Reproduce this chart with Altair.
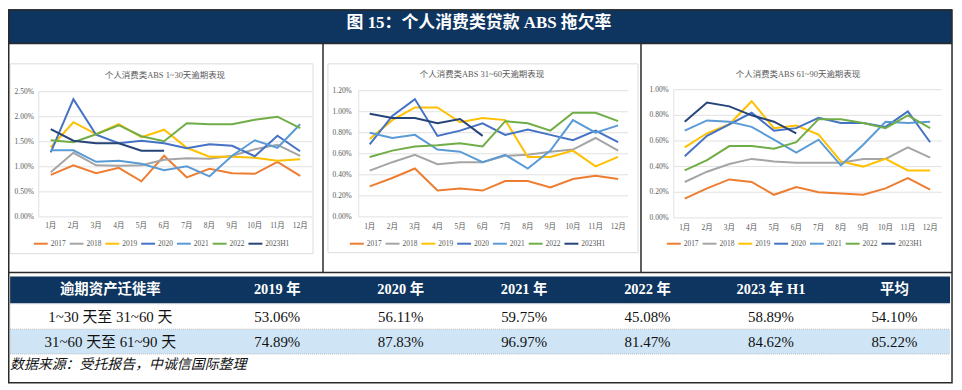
import altair as alt
import pandas as pd

# ---------------- data ----------------
months = ["1月", "2月", "3月", "4月", "5月", "6月", "7月", "8月", "9月", "10月", "11月", "12月"]
years = ["2017", "2018", "2019", "2020", "2021", "2022", "2023H1"]
year_colors = ["#ED7D31", "#A5A5A5", "#FFC000", "#4472C4", "#5B9BD5", "#70AD47", "#264478"]

# 1~30 days overdue rate (%)
d30 = {
    "2017": [0.84, 1.03, 0.87, 0.98, 0.71, 1.22, 0.79, 0.96, 0.87, 0.86, 1.10, 0.82],
    "2018": [0.89, 1.28, 1.03, 1.02, 1.03, 1.14, 1.17, 1.16, 1.22, 1.35, 1.44, 1.22],
    "2019": [1.39, 1.89, 1.65, 1.85, 1.59, 1.74, 1.38, 1.20, 1.20, 1.18, 1.12, 1.15],
    "2020": [1.29, 2.35, 1.64, 1.47, 1.52, 1.47, 1.37, 1.45, 1.42, 1.21, 1.62, 1.31],
    "2021": [1.33, 1.33, 1.10, 1.12, 1.06, 0.93, 1.01, 0.81, 1.22, 1.53, 1.38, 1.85],
    "2022": [1.53, 1.49, 1.65, 1.83, 1.61, 1.51, 1.87, 1.85, 1.85, 1.94, 2.00, 1.77],
    "2023H1": [1.75, 1.52, 1.47, 1.47, 1.32, 1.32],
}
# 31~60 days overdue rate (%)
d60 = {
    "2017": [0.29, 0.37, 0.46, 0.25, 0.27, 0.25, 0.34, 0.34, 0.28, 0.36, 0.39, 0.36],
    "2018": [0.44, 0.52, 0.59, 0.50, 0.52, 0.52, 0.58, 0.59, 0.62, 0.64, 0.75, 0.63],
    "2019": [0.74, 0.92, 1.04, 1.04, 0.90, 0.94, 0.92, 0.57, 0.57, 0.63, 0.48, 0.57],
    "2020": [0.69, 0.96, 1.12, 0.77, 0.82, 0.89, 0.78, 0.83, 0.78, 0.73, 0.82, 0.71],
    "2021": [0.80, 0.75, 0.78, 0.64, 0.62, 0.52, 0.59, 0.46, 0.63, 0.92, 0.80, 0.87],
    "2022": [0.57, 0.63, 0.67, 0.68, 0.70, 0.67, 0.91, 0.89, 0.82, 0.99, 0.99, 0.91],
    "2023H1": [0.98, 0.94, 0.94, 0.89, 0.93, 0.77],
}
# 61~90 days overdue rate (%)
d90 = {
    "2017": [0.15, 0.23, 0.30, 0.28, 0.18, 0.24, 0.20, 0.19, 0.18, 0.23, 0.31, 0.22],
    "2018": [0.28, 0.36, 0.42, 0.46, 0.44, 0.43, 0.43, 0.43, 0.46, 0.46, 0.55, 0.47],
    "2019": [0.55, 0.66, 0.73, 0.91, 0.70, 0.72, 0.65, 0.44, 0.40, 0.46, 0.37, 0.37],
    "2020": [0.48, 0.64, 0.73, 0.82, 0.68, 0.70, 0.78, 0.74, 0.74, 0.71, 0.83, 0.59],
    "2021": [0.68, 0.76, 0.75, 0.71, 0.61, 0.51, 0.61, 0.41, 0.57, 0.75, 0.74, 0.75],
    "2022": [0.37, 0.45, 0.56, 0.56, 0.54, 0.59, 0.77, 0.77, 0.74, 0.70, 0.80, 0.70],
    "2023H1": [0.75, 0.90, 0.87, 0.80, 0.75, 0.66],
}
ticks30 = [0.0, 0.5, 1.0, 1.5, 2.0, 2.5]
ticks60 = [0.0, 0.2, 0.4, 0.6, 0.8, 1.0, 1.2]
ticks90 = [0.0, 0.2, 0.4, 0.6, 0.8, 1.0]

fig_title = "图 15：个人消费类贷款 ABS 拖欠率"
panel_titles = ["个人消费类ABS 1~30天逾期表现", "个人消费类ABS 31~60天逾期表现", "个人消费类ABS 61~90天逾期表现"]

table_head = "逾期资产迁徙率"
table_cols = ["2019 年", "2020 年", "2021 年", "2022 年", "2023 年 H1", "平均"]
row_labels = ["1~30 天至 31~60 天", "31~60 天至 61~90 天"]
rate_30_60 = ["53.06%", "56.11%", "59.75%", "45.08%", "58.89%", "54.10%"]
rate_60_90 = ["74.89%", "87.83%", "96.97%", "81.47%", "84.62%", "85.22%"]
source_note = "数据来源：受托报告，中诚信国际整理"

# ---------------- styling ----------------
NAVY = "#0e355f"
FONT = "Liberation Serif, Noto Sans CJK SC"
CJK = "Noto Sans CJK SC"
GREY_TXT = "#595959"
ONE = alt.Data(values=[{}])


def box(x, x2, y, y2, **kw):
    return alt.Chart(ONE).mark_rect(**kw).encode(
        x=alt.value(x), x2=alt.value(x2), y=alt.value(y), y2=alt.value(y2))


def line(x, x2, y, y2, **kw):
    return alt.Chart(ONE).mark_rule(**kw).encode(
        x=alt.value(x), x2=alt.value(x2), y=alt.value(y), y2=alt.value(y2))


def panel(series, ticks, title, L):
    rows = []
    for y in years:
        for i, v in enumerate(series[y]):
            rows.append({"month": months[i], "i": i, "year": y, "v": v})
    df = pd.DataFrame(rows)
    xs = alt.Scale(type="point", domain=months, range=list(L["xr"]), padding=0)
    ys = alt.Scale(domain=[ticks[0], ticks[-1]], range=list(L["yr"]), nice=False, zero=True)
    tdf = pd.DataFrame({"t": ticks})
    grid = alt.Chart(tdf).mark_rule(color="#d9d9d9", strokeWidth=0.8).encode(
        y=alt.Y("t:Q", scale=ys, axis=None),
        x=alt.value(L["px"][0]), x2=alt.value(L["px"][1]))
    yline = line(L["px"][0], L["px"][0], L["yr"][1], L["yr"][0], color="#d9d9d9", strokeWidth=0.8)
    tlab = alt.Chart(tdf).transform_calculate(
        lbl="format(datum.t, '.2f') + '%'"
    ).mark_text(align="right", baseline="middle", font=FONT, fontSize=7.5, color=GREY_TXT).encode(
        y=alt.Y("t:Q", scale=ys, axis=None), x=alt.value(L["lx"]), text="lbl:N")
    mlab = alt.Chart(pd.DataFrame({"month": months})).mark_text(
        align="center", baseline="middle", font=FONT, fontSize=7.5, color=GREY_TXT).encode(
        x=alt.X("month:N", scale=xs, axis=None), y=alt.value(L["my"]), text="month:N")
    ttl = alt.Chart(pd.DataFrame({"t": [title]})).mark_text(
        align="center", baseline="middle", font=FONT, fontSize=8.5, color=GREY_TXT).encode(
        x=alt.value(L["tt"][0]), y=alt.value(L["tt"][1]), text="t:N")
    lines = alt.Chart(df).mark_line(strokeWidth=2).encode(
        x=alt.X("month:N", scale=xs, axis=None),
        y=alt.Y("v:Q", scale=ys, axis=None),
        order=alt.Order("i:Q"),
        color=alt.Color("year:N", scale=alt.Scale(domain=years, range=year_colors),
                        legend=alt.Legend(orient="none", legendX=L["lg"][0], legendY=L["lg"][1],
                                          direction="horizontal", title=None, symbolType="stroke",
                                          symbolStrokeWidth=2, symbolSize=196, labelFont=FONT,
                                          labelFontSize=7.5, labelColor=GREY_TXT, labelOffset=2,
                                          columnPadding=0, padding=0)),
    )
    return [grid, yline, tlab, mlab, ttl, lines]


P1 = dict(xr=(43, 294), yr=(209, 83), px=(31, 306), lx=26, my=218, tt=(158, 66), lg=(25, 228))
P2 = dict(xr=(364, 614), yr=(209, 82), px=(353, 624), lx=346, my=219, tt=(477, 65), lg=(343, 228))
P3 = dict(xr=(681, 928), yr=(210, 81), px=(670, 940), lx=665, my=220, tt=(795, 65), lg=(662, 228))

layers = []
# backgrounds
layers.append(box(0, 950, 0, 34, color=NAVY))
layers.append(box(2, 948, 269, 296, color=NAVY))
layers.append(box(2, 948, 322, 347, color="#cfe5f6"))
# inner chart frames
layers.append(box(2, 307, 55, 246, fillOpacity=0, stroke="#dcdcdc", strokeWidth=1))
layers.append(box(322, 634, 55, 245, fillOpacity=0, stroke="#dcdcdc", strokeWidth=1))

layers += panel(d30, ticks30, panel_titles[0], P1)
layers += panel(d60, ticks60, panel_titles[1], P2)
layers += panel(d90, ticks90, panel_titles[2], P3)

# figure frame lines
layers.append(box(0.75, 950, 0.75, 376, fillOpacity=0, stroke="#2a2a2a", strokeWidth=1.5))
layers.append(line(0, 950, 34.5, 34.5, color="#2a2a2a", strokeWidth=1.5))
layers.append(line(0, 950, 265, 265, color="#2a2a2a", strokeWidth=1.5))
layers.append(line(317, 317, 34.5, 265, color="#2a2a2a", strokeWidth=1.5))
layers.append(line(637, 637, 34.5, 265, color="#2a2a2a", strokeWidth=1.5))
# table dotted separators
for yy in (296.5, 322, 347):
    layers.append(line(2, 948, yy, yy, color="#b0b0b0", strokeWidth=0.8, strokeDash=[1, 1]))
layers.append(line(2, 2, 269, 347, color="#b0b0b0", strokeWidth=0.8, strokeDash=[1, 1]))

# title
layers.append(alt.Chart(pd.DataFrame({"t": [fig_title]})).mark_text(
    align="center", baseline="middle", font=FONT, fontSize=17, fontWeight="bold", color="white").encode(
    x=alt.value(474), y=alt.value(14), text="t:N"))

# table text
col_scale = alt.Scale(type="point", domain=table_cols, range=[271, 892], padding=0)
row_scale = alt.Scale(type="point", domain=row_labels, range=[310, 334.5], padding=0)
layers.append(alt.Chart(pd.DataFrame({"c": table_cols})).mark_text(
    align="center", baseline="middle", font=FONT, fontSize=14.5, fontWeight="bold", color="white").encode(
    x=alt.X("c:N", scale=col_scale, axis=None), y=alt.value(283), text="c:N"))
layers.append(alt.Chart(pd.DataFrame({"c": [table_head]})).mark_text(
    align="center", baseline="middle", font=FONT, fontSize=14.5, fontWeight="bold", color="white").encode(
    x=alt.value(103), y=alt.value(283), text="c:N"))
body = pd.DataFrame(
    [{"r": row_labels[0], "c": c, "v": v} for c, v in zip(table_cols, rate_30_60)]
    + [{"r": row_labels[1], "c": c, "v": v} for c, v in zip(table_cols, rate_60_90)]
)
layers.append(alt.Chart(body).mark_text(
    align="center", baseline="middle", font=FONT, fontSize=15, color="#111").encode(
    x=alt.X("c:N", scale=col_scale, axis=None),
    y=alt.Y("r:N", scale=row_scale, axis=None), text="v:N"))
layers.append(alt.Chart(pd.DataFrame({"r": row_labels})).mark_text(
    align="center", baseline="middle", font=FONT, fontSize=15, color="#111").encode(
    x=alt.value(103), y=alt.Y("r:N", scale=row_scale, axis=None), text="r:N"))
layers.append(alt.Chart(pd.DataFrame({"t": [source_note]})).mark_text(
    align="left", baseline="middle", font=CJK, fontSize=14, fontStyle="italic", color="#111").encode(
    x=alt.value(2), y=alt.value(358), text="t:N"))

chart = alt.layer(*layers).resolve_scale(
    x="independent", y="independent", color="independent"
).properties(
    width=952, height=378, autosize=alt.AutoSizeParams(type="none"), padding=0
).configure_view(stroke=None)

chart.save("out.html", embed_options={"renderer": "svg", "actions": False})
